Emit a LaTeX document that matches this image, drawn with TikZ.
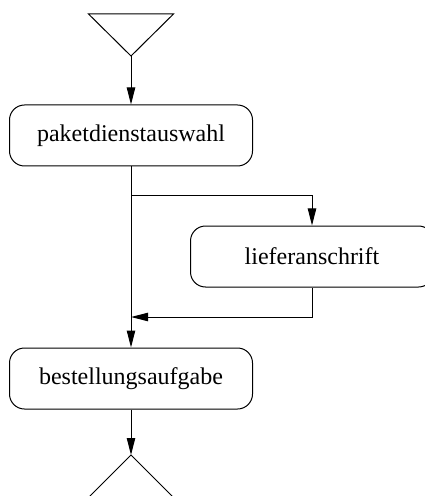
\documentclass[tikz,border=0pt]{standalone}
\usepackage{fontspec}
\setmainfont{Liberation Serif}
\usepackage{tikz}
\usetikzlibrary{arrows.meta,positioning,calc}

\begin{document}
\begin{tikzpicture}[
  x=0.5pt, y=-0.5pt,
  font=\fontsize{12}{14}\selectfont,
  activity/.style={draw, line width=0.5pt, rounded corners=7.5pt, fill=white,
                   align=center, minimum width=121.5pt, minimum height=30.5pt},
  flow/.style={-{Triangle[length=8.5pt, width=4.2pt]}, line width=0.5pt},
  plain/.style={line width=0.5pt}]
  \useasboundingbox (0,0) rectangle (424,496);
  % start and end markers
  \coordinate (start) at (131,56);
  \coordinate (stop) at (131,455);
  \draw[plain] (start) -- ++(-42.5,-42) -- ++(85,0) -- cycle;
  \draw[plain] (stop) -- ++(-44,44) -- ++(88,0) -- cycle;
  % activities
  \node[activity] (paket) at (131,135.5) {paketdienstauswahl};
  \node[activity] (liefer) at (312,256.5) {lieferanschrift};
  \node[activity, below=90.5pt of paket] (bestell) {bestellungsaufgabe};
  \coordinate (split) at (131,196);
  \coordinate (join) at (131,317);
  \draw[flow] (start) -- (paket);
  \draw[flow] (paket) -- (bestell);
  \draw[flow] (split) -| (liefer);
  \draw[flow] (liefer) |- (join);
  \draw[flow] (bestell) -- (stop);
\end{tikzpicture}
\end{document}
